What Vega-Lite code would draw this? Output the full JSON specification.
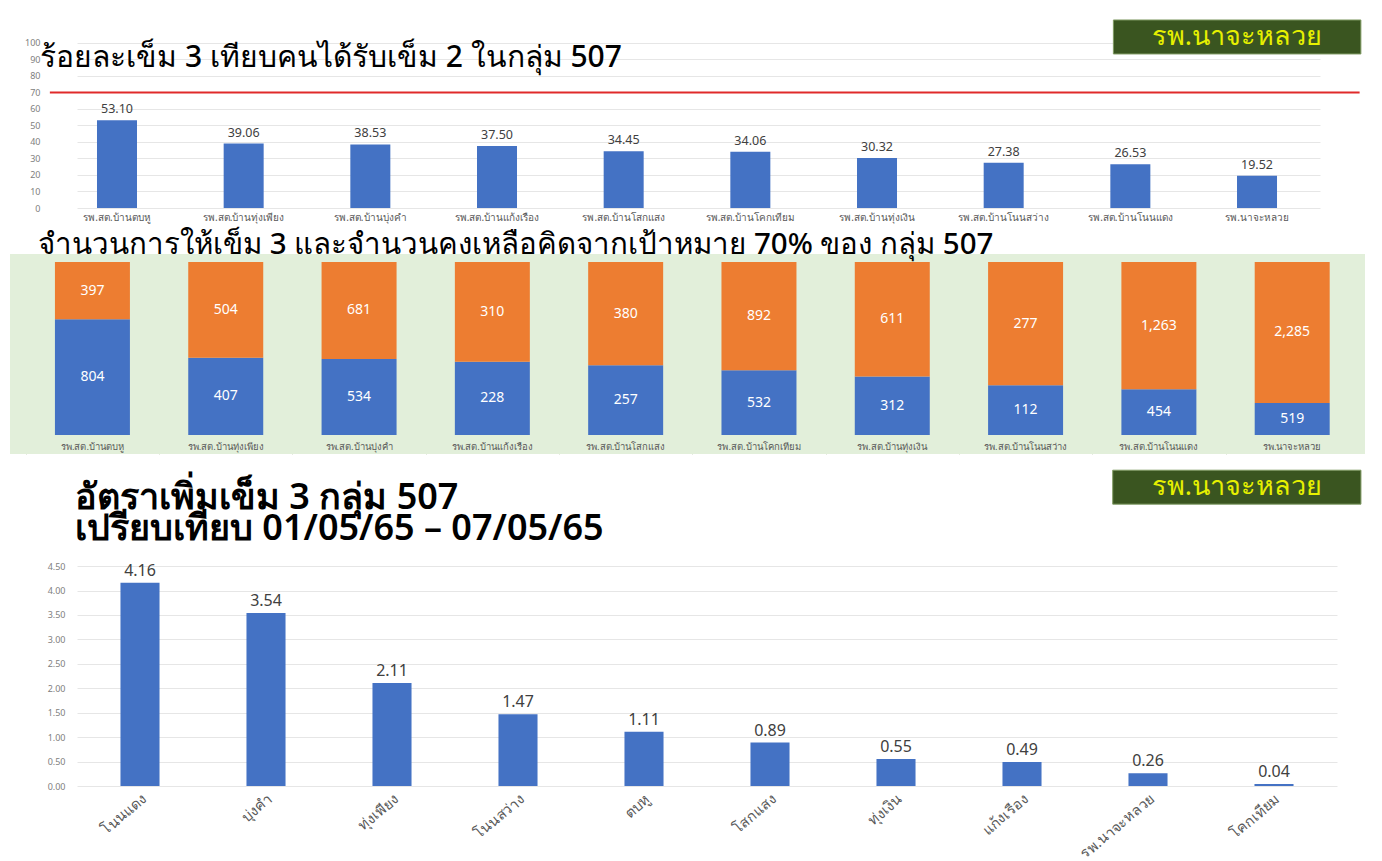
{
  "$schema": "https://vega.github.io/schema/vega-lite/v6.json",
  "background": "white",
  "padding": 0,
  "spacing": 7,
  "config": {"view": {"stroke": null}, "font": "Noto Sans", "axis": {"labelFont": "Noto Sans"}, "title": {"font": "Noto Sans"}, "text": {"font": "Noto Sans"}},
  "datasets": {
    "pct": [
      {"name": "รพ.สต.บ้านตบหู", "pct": 53.10},
      {"name": "รพ.สต.บ้านทุ่งเพียง", "pct": 39.06},
      {"name": "รพ.สต.บ้านบุ่งคำ", "pct": 38.53},
      {"name": "รพ.สต.บ้านแก้งเรือง", "pct": 37.50},
      {"name": "รพ.สต.บ้านโสกแสง", "pct": 34.45},
      {"name": "รพ.สต.บ้านโคกเทียม", "pct": 34.06},
      {"name": "รพ.สต.บ้านทุ่งเงิน", "pct": 30.32},
      {"name": "รพ.สต.บ้านโนนสว่าง", "pct": 27.38},
      {"name": "รพ.สต.บ้านโนนแดง", "pct": 26.53},
      {"name": "รพ.นาจะหลวย", "pct": 19.52}
    ],
    "dose": [
      {"name": "รพ.สต.บ้านตบหู", "kind": "given", "ord": 1, "n": 804},
      {"name": "รพ.สต.บ้านตบหู", "kind": "remain", "ord": 2, "n": 397},
      {"name": "รพ.สต.บ้านทุ่งเพียง", "kind": "given", "ord": 1, "n": 407},
      {"name": "รพ.สต.บ้านทุ่งเพียง", "kind": "remain", "ord": 2, "n": 504},
      {"name": "รพ.สต.บ้านบุ่งคำ", "kind": "given", "ord": 1, "n": 534},
      {"name": "รพ.สต.บ้านบุ่งคำ", "kind": "remain", "ord": 2, "n": 681},
      {"name": "รพ.สต.บ้านแก้งเรือง", "kind": "given", "ord": 1, "n": 228},
      {"name": "รพ.สต.บ้านแก้งเรือง", "kind": "remain", "ord": 2, "n": 310},
      {"name": "รพ.สต.บ้านโสกแสง", "kind": "given", "ord": 1, "n": 257},
      {"name": "รพ.สต.บ้านโสกแสง", "kind": "remain", "ord": 2, "n": 380},
      {"name": "รพ.สต.บ้านโคกเทียม", "kind": "given", "ord": 1, "n": 532},
      {"name": "รพ.สต.บ้านโคกเทียม", "kind": "remain", "ord": 2, "n": 892},
      {"name": "รพ.สต.บ้านทุ่งเงิน", "kind": "given", "ord": 1, "n": 312},
      {"name": "รพ.สต.บ้านทุ่งเงิน", "kind": "remain", "ord": 2, "n": 611},
      {"name": "รพ.สต.บ้านโนนสว่าง", "kind": "given", "ord": 1, "n": 112},
      {"name": "รพ.สต.บ้านโนนสว่าง", "kind": "remain", "ord": 2, "n": 277},
      {"name": "รพ.สต.บ้านโนนแดง", "kind": "given", "ord": 1, "n": 454},
      {"name": "รพ.สต.บ้านโนนแดง", "kind": "remain", "ord": 2, "n": 1263},
      {"name": "รพ.นาจะหลวย", "kind": "given", "ord": 1, "n": 519},
      {"name": "รพ.นาจะหลวย", "kind": "remain", "ord": 2, "n": 2285}
    ],
    "rate": [
      {"name": "โนนแดง", "rate": 4.16},
      {"name": "บุ่งคำ", "rate": 3.54},
      {"name": "ทุ่งเพียง", "rate": 2.11},
      {"name": "โนนสว่าง", "rate": 1.47},
      {"name": "ตบหู", "rate": 1.11},
      {"name": "โสกแสง", "rate": 0.89},
      {"name": "ทุ่งเงิน", "rate": 0.55},
      {"name": "แก้งเรือง", "rate": 0.49},
      {"name": "รพ.นาจะหลวย", "rate": 0.26},
      {"name": "โคกเทียม", "rate": 0.04}
    ]
  },
  "vconcat": [
    {
      "width": 1243,
      "height": 208,
      "layer": [
        {
          "data": {"name": "pct"},
          "encoding": {
            "x": {"field": "name", "type": "nominal", "sort": null, "title": null,
                  "scale": {"paddingInner": 0.6842, "paddingOuter": 0.2486, "align": 0.3175},
                  "axis": {"labelAngle": 0, "labelFontSize": 10, "labelColor": "#595959", "domain": false, "ticks": false, "tickSize": 0, "labelPadding": 4}},
            "y": {"field": "pct", "type": "quantitative", "title": null,
                  "scale": {"domain": [0, 126], "nice": false, "zero": false},
                  "axis": {"values": [0, 10, 20, 30, 40, 50, 60, 70, 80, 90, 100], "tickCount": 50, "labelOverlap": false, "labelFontSize": 9, "labelColor": "#808080", "domain": false, "ticks": false, "tickSize": 0, "labelPadding": 37, "gridColor": "#e6e6e6", "minExtent": 77, "maxExtent": 77}}
          },
          "layer": [
            {"mark": {"type": "bar", "color": "#4472c4"}},
            {"mark": {"type": "text", "baseline": "bottom", "dy": -4, "fontSize": 12.5, "color": "#404040"},
             "encoding": {"text": {"field": "pct", "type": "quantitative", "format": ".2f"}}}
          ]
        },
        {
          "data": {"values": [{}]},
          "mark": {"type": "rule", "color": "#e02a2a", "strokeWidth": 2},
          "encoding": {
            "x": {"datum": -0.53, "type": "quantitative", "scale": {"domain": [-0.3158, 9.4972], "nice": false, "zero": false}, "axis": null},
            "x2": {"datum": 9.81},
            "y": {"datum": 70, "title": null}
          }
        },
        {
          "data": {"values": [{}]},
          "mark": {"type": "rect", "color": "#3a5520", "stroke": "#7f9a62", "strokeWidth": 1},
          "encoding": {
            "x": {"datum": 7.866, "type": "quantitative", "scale": {"domain": [-0.3158, 9.4972], "nice": false, "zero": false}, "axis": null},
            "x2": {"datum": 9.82},
            "y": {"datum": 93.3, "title": null},
            "y2": {"datum": 113.9}
          }
        },
        {
          "data": {"values": [{}]},
          "mark": {"type": "text", "text": "รพ.นาจะหลวย", "fontSize": 27, "color": "#e6f000", "align": "center", "baseline": "middle"},
          "encoding": {
            "x": {"datum": 8.84, "type": "quantitative", "scale": {"domain": [-0.3158, 9.4972], "nice": false, "zero": false}, "axis": null},
            "y": {"datum": 103.6, "title": null}
          }
        },
        {
          "data": {"values": [{}]},
          "mark": {"type": "text", "text": "ร้อยละเข็ม 3 เทียบคนได้รับเข็ม 2 ในกลุ่ม 507", "fontSize": 30, "fontWeight": 500, "color": "#000000", "align": "left", "baseline": "middle"},
          "encoding": {
            "x": {"datum": -0.607, "type": "quantitative", "scale": {"domain": [-0.3158, 9.4972], "nice": false, "zero": false}, "axis": null},
            "y": {"datum": 90.9, "title": null}
          }
        }
      ],
      "resolve": {"scale": {"x": "independent"}}
    },
    {
      "width": 1288,
      "height": 200,
      "title": {"text": "จำนวนการให้เข็ม 3 และจำนวนคงเหลือคิดจากเป้าหมาย 70% ของ กลุ่ม 507", "anchor": "start", "frame": "group", "fontSize": 29.5, "fontWeight": 500, "color": "#000000", "offset": -6, "dx": -39},
      "layer": [
        {
          "data": {"values": [{}]},
          "mark": {"type": "rect", "color": "#e2efda"},
          "encoding": {
            "x": {"datum": 0, "type": "quantitative", "scale": {"domain": [0, 1], "range": [-67, 1288], "nice": false, "zero": false}, "axis": null},
            "x2": {"datum": 1},
            "y": {"datum": -0.11, "type": "quantitative", "title": null},
            "y2": {"datum": 1.046}
          }
        },
        {
          "data": {"name": "dose"},
          "encoding": {
            "x": {"field": "name", "type": "nominal", "sort": null, "title": null,
                  "scale": {"range": [-67, 1288], "paddingInner": 0.4375, "paddingOuter": 0.301, "align": 0.56},
                  "axis": {"labels": false, "ticks": false, "domain": false, "grid": true, "gridColor": "#cad8c0", "bandPosition": 0, "tickOffset": -29.2}}
          },
          "layer": [
            {
              "mark": {"type": "bar"},
              "encoding": {
                "y": {"field": "n", "type": "quantitative", "stack": "normalize", "title": null,
                      "scale": {"domain": [-0.11, 1.046], "nice": false, "zero": false},
                      "axis": {"labels": false, "ticks": false, "domain": false, "grid": false, "minExtent": 10, "maxExtent": 10}},
                "color": {"field": "kind", "type": "nominal", "scale": {"domain": ["given", "remain"], "range": ["#4472c4", "#ed7d31"]}, "legend": null},
                "order": {"field": "ord", "type": "quantitative"}
              }
            },
            {
              "mark": {"type": "text", "color": "white", "fontSize": 14, "baseline": "middle"},
              "encoding": {
                "y": {"field": "n", "type": "quantitative", "stack": "normalize", "bandPosition": 0.5, "title": null},
                "text": {"field": "n", "type": "quantitative", "format": ","},
                "detail": {"field": "kind"},
                "order": {"field": "ord", "type": "quantitative"}
              }
            },
            {
              "transform": [{"filter": "datum.kind === 'given'"}],
              "mark": {"type": "text", "color": "#595959", "fontSize": 9.5, "baseline": "middle"},
              "encoding": {
                "y": {"datum": -0.069, "title": null},
                "text": {"field": "name"}
              }
            }
          ]
        }
      ],
      "resolve": {"scale": {"x": "independent"}}
    },
    {
      "width": 1260,
      "height": 325,
      "layer": [
        {
          "data": {"name": "rate"},
          "encoding": {
            "x": {"field": "name", "type": "nominal", "sort": null, "title": null,
                  "scale": {"paddingInner": 0.69, "paddingOuter": 0.345},
                  "axis": {"labelAngle": -40, "labelFontSize": 14.5, "labelColor": "#595959", "domain": false, "ticks": false, "tickSize": 0, "labelPadding": 6}},
            "y": {"field": "rate", "type": "quantitative", "title": null,
                  "scale": {"domain": [0, 6.65], "nice": false, "zero": false},
                  "axis": {"values": [0, 0.5, 1, 1.5, 2, 2.5, 3, 3.5, 4, 4.5], "tickCount": 50, "labelOverlap": false, "format": ".2f", "labelFontSize": 9, "labelColor": "#808080", "domain": false, "ticks": false, "tickSize": 0, "labelPadding": 12, "gridColor": "#e6e6e6", "minExtent": 77, "maxExtent": 77}}
          },
          "layer": [
            {"mark": {"type": "bar", "color": "#4472c4"}},
            {"mark": {"type": "text", "baseline": "bottom", "dy": -4, "fontSize": 16, "color": "#404040"},
             "encoding": {"text": {"field": "rate", "type": "quantitative", "format": ".2f"}}}
          ]
        },
        {
          "data": {"values": [{}]},
          "mark": {"type": "rect", "color": "#3a5520", "stroke": "#7f9a62", "strokeWidth": 1},
          "encoding": {
            "x": {"datum": 7.72, "type": "quantitative", "scale": {"domain": [-0.5, 9.5], "nice": false, "zero": false}, "axis": null},
            "x2": {"datum": 9.69},
            "y": {"datum": 5.767, "title": null},
            "y2": {"datum": 6.462}
          }
        },
        {
          "data": {"values": [{}]},
          "mark": {"type": "text", "text": "รพ.นาจะหลวย", "fontSize": 27, "color": "#e6f000", "align": "center", "baseline": "middle"},
          "encoding": {
            "x": {"datum": 8.705, "type": "quantitative", "scale": {"domain": [-0.5, 9.5], "nice": false, "zero": false}, "axis": null},
            "y": {"datum": 6.11, "title": null}
          }
        },
        {
          "data": {"values": [{}]},
          "mark": {"type": "text", "text": ["อัตราเพิ่มเข็ม 3 กลุ่ม 507", "เปรียบเทียบ 01/05/65 – 07/05/65"], "lineHeight": 31, "fontSize": 36, "fontWeight": 600, "color": "#000000", "align": "left", "baseline": "middle"},
          "encoding": {
            "x": {"datum": -0.516, "type": "quantitative", "scale": {"domain": [-0.5, 9.5], "nice": false, "zero": false}, "axis": null},
            "y": {"datum": 5.883, "title": null}
          }
        }
      ],
      "resolve": {"scale": {"x": "independent"}}
    }
  ]
}
